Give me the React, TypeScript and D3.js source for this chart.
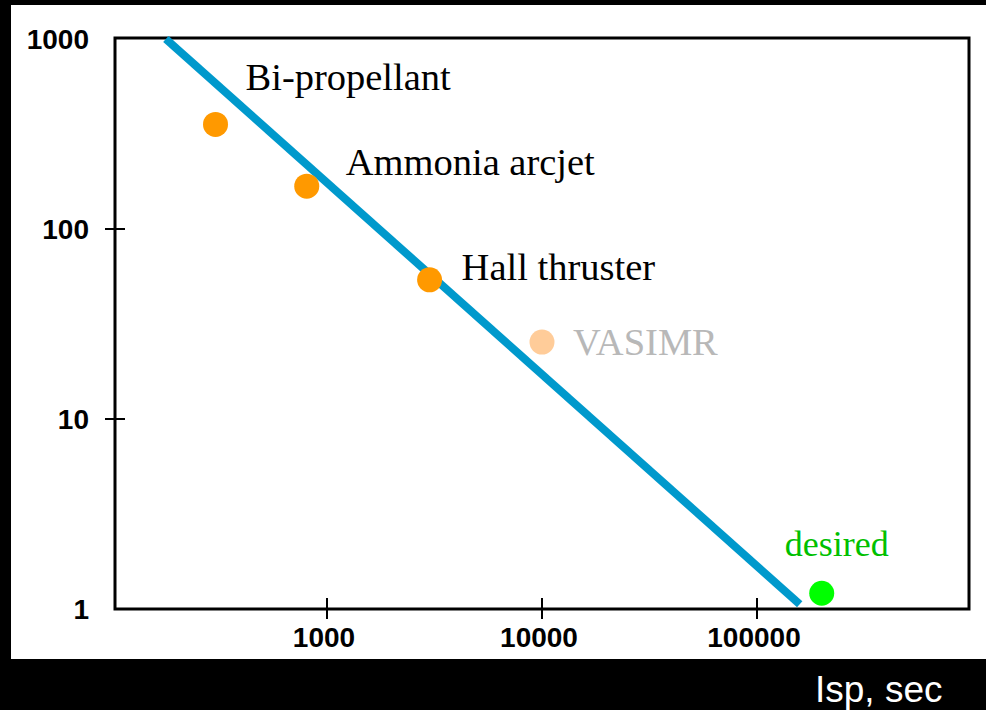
import React from "react";
import * as d3 from "d3";

const xTicks = [1000, 10000, 100000];
const xTickLabels = ["1000", "10000", "100000"];
const yTicks = [1, 10, 100, 1000];
const yTickLabels = ["1", "10", "100", "1000"];

const pointNames = ["Bi-propellant", "Ammonia arcjet", "Hall thruster", "VASIMR", "desired"];
const pointIsp = [303, 805, 3000, 10000, 200000];
const pointValue = [355, 168, 54, 25.4, 1.21];
const pointKinds = ["real", "real", "real", "future", "goal"];

const lineIsp = [178, 158000];
const lineValue = [1000, 1.06];

const W = 986;
const H = 710;

export default function App() {
  const x = d3.scaleLog().domain([100, 1e6]).range([112, 972]);
  const y = d3.scaleLog().domain([1, 1000]).range([609, 39]);
  const lineData: [number, number][] = lineIsp.map((v, i) => [v, lineValue[i]]);
  const lineGen = d3
    .line<[number, number]>()
    .x((d) => x(d[0]))
    .y((d) => y(d[1]));

  const dotFill: Record<string, string> = { real: "#ff9900", future: "#ffcc99", goal: "#00ff00" };
  const labelFill: Record<string, string> = { real: "#000000", future: "#b8b8b8", goal: "#00c000" };
  const labelDx = [30, 39, 32, 31, -37];
  const labelDy = [-34, -11, 0, 13, -37];
  const labelSize = [38.5, 38.5, 38.5, 38.5, 36];

  const serif = "'Liberation Serif', 'Times New Roman', serif";
  const sans = "'Liberation Sans', Arial, sans-serif";

  return (
    <svg
      width={W}
      height={H}
      style={{ position: "absolute", left: 0, top: 0, display: "block" }}
    >
      <rect x={0} y={0} width={W} height={H} fill="#000" />
      <rect x={11} y={5} width={W - 11} height={654} fill="#fff" />
      <rect x={115} y={38} width={854} height={571} fill="none" stroke="#000" strokeWidth={3} />

      {yTicks.map((t, i) => (
        <g key={"y" + t}>
          {t !== 1 && t !== 1000 && (
            <line x1={105} x2={125} y1={y(t)} y2={y(t)} stroke="#000" strokeWidth={2} />
          )}
          <text
            x={89}
            y={y(t) + 10}
            textAnchor="end"
            fontFamily={sans}
            fontWeight="bold"
            fontSize={28}
            fill="#000"
          >
            {yTickLabels[i]}
          </text>
        </g>
      ))}

      {xTicks.map((t, i) => (
        <g key={"x" + t}>
          <line x1={x(t)} x2={x(t)} y1={598} y2={619} stroke="#000" strokeWidth={2} />
          <text
            x={x(t) - 3}
            y={647}
            textAnchor="middle"
            fontFamily={sans}
            fontWeight="bold"
            fontSize={28}
            fill="#000"
          >
            {xTickLabels[i]}
          </text>
        </g>
      ))}

      <path d={lineGen(lineData) || ""} fill="none" stroke="#0099cc" strokeWidth={8} />

      {pointNames.map((name, i) => {
        const cx = x(pointIsp[i]);
        const cy = y(pointValue[i]);
        const k = pointKinds[i];
        return (
          <g key={name}>
            <circle cx={cx} cy={cy} r={12.5} fill={dotFill[k]} />
            <text
              x={cx + labelDx[i]}
              y={cy + labelDy[i]}
              fontFamily={serif}
              fontSize={labelSize[i]}
              fill={labelFill[k]}
            >
              {name}
            </text>
          </g>
        );
      })}

      <text x={815} y={702} fontFamily={sans} fontSize={37} fill="#fff">
        Isp, sec
      </text>
    </svg>
  );
}
